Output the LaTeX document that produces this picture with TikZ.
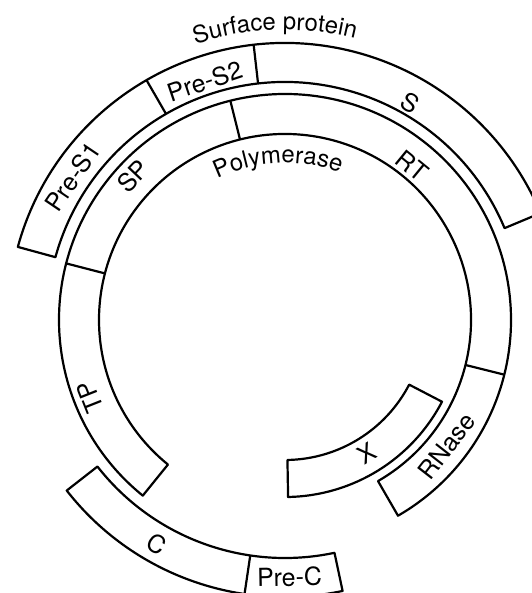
\documentclass[tikz,border=0pt]{standalone}
\usepackage{fontspec}
\setmainfont{TeX Gyre Heros}
\usetikzlibrary{decorations.text}
\newcommand{\lab}{\fontsize{12.5}{14}\selectfont}
\newcommand{\titlefont}{\fontsize{12}{14}\selectfont}
\tikzset{
  band/.style={draw, line width=1.1bp, line join=round},
  cut/.style={draw, line width=1.1bp},
  lbl/.style={font=\lab, inner sep=0pt}
}
\begin{document}
\begin{tikzpicture}[x=0.5bp,y=0.5bp]
\useasboundingbox (0,0) rectangle (532,593);
\begin{scope}[shift={(285,273)}]
% surface protein
\draw[band] (22.7:238) arc[start angle=22.7, end angle=164.7, radius=238]
  -- (164.7:277) arc[start angle=164.7, end angle=22.7, radius=277] -- cycle;
\draw[cut] (120:238) -- (120:277);
\draw[cut] (96.5:238) -- (96.5:277);

% polymerase
\draw[band] (-60:186) arc[start angle=-60, end angle=231, radius=186]
  -- (231:226) arc[start angle=231, end angle=-60, radius=226] -- cycle;
\draw[cut] (165.5:186) -- (165.5:226);
\draw[cut] (104:186) -- (104:226);
\draw[cut] (-14:186) -- (-14:226);

% core
\draw[band] (218:238) arc[start angle=218, end angle=282, radius=238]
  -- (282:277) arc[start angle=282, end angle=218, radius=277] -- cycle;
\draw[cut] (261.6:238) -- (261.6:277);

% X
\draw[band] (-89:140) arc[start angle=-89, end angle=-27.5, radius=140]
  -- (-27.5:177) arc[start angle=-27.5, end angle=-89, radius=177] -- cycle;

% curved titles
\path[decorate, decoration={text along path, text align=center,
  text={|\titlefont|Surface protein}}]
  (109:290) arc[start angle=109, end angle=75, radius=290];
\path[decorate, decoration={text along path, text align=center,
  text={|\titlefont|Polymerase}}]
  (116:157) arc[start angle=116, end angle=69, radius=157];

% gene labels
\node[lbl, rotate=56] (pres1) at (146:256) {Pre-S1};
\node[lbl, rotate=18.6] (pres2) at (108.6:252) {Pre-S2};
\node[lbl, rotate=-30] (s) at (60:251) {S};
\node[lbl, rotate=46.5] (sp) at (136.5:209) {SP};
\node[lbl, rotate=-39.3] (rt) at (50.5:200) {RT};
\node[lbl, rotate=111.6] (tp) at (201.6:210) {TP};
\node[lbl, rotate=52.1] (rnase) at (-37.9:205) {RNase};
\node[lbl, rotate=31.6] (x) at (-58.4:157) {X};
\node[lbl, rotate=-29.7] (c) at (240.3:258) {C};
\node[lbl, rotate=1] (prec) at (271:257) {Pre-C};
\end{scope}
\end{tikzpicture}
\end{document}
